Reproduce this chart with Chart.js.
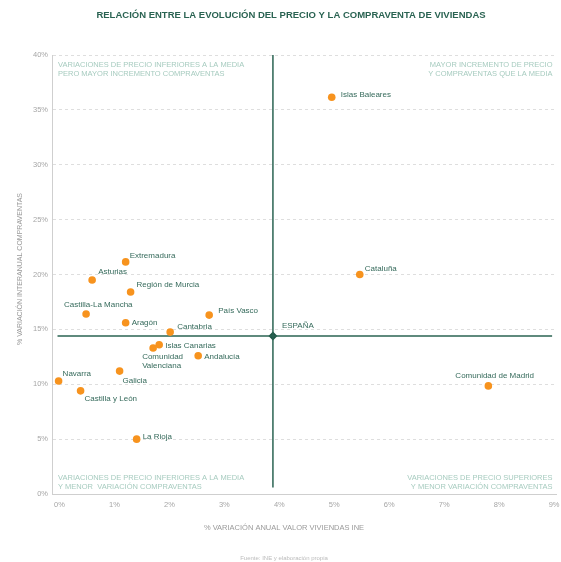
<!DOCTYPE html>
<html>
<head>
<meta charset="utf-8">
<script src="https://cdn.jsdelivr.net/npm/chart.js@4.4.1/dist/chart.umd.min.js"></script>
<style>
  html, body { margin: 0; padding: 0; background: #fff; }
  #wrap { width: 561px; height: 562px; }
</style>
</head>
<body>
<div id="wrap"><canvas id="chart"></canvas></div>
<script>
// datos
const regiones = ['Islas Baleares', 'Extremadura', 'Asturias', 'Región de Murcia', 'Castilla-La Mancha',
  'Aragón', 'País Vasco', 'Cantabria', 'Islas Canarias', ['Comunidad', 'Valenciana'], 'Andalucía',
  'Galicia', 'Navarra', 'Castilla y León', 'La Rioja', 'Cataluña', 'Comunidad de Madrid'];
const precio = [4.99, 1.24, 0.63, 1.33, 0.52, 1.24, 2.76, 2.05, 1.85, 1.74, 2.56, 1.13, 0.02, 0.42, 1.44, 5.50, 7.84];
const compraventas = [36.15, 21.15, 19.5, 18.4, 16.4, 15.6, 16.3, 14.75, 13.6, 13.3, 12.6, 11.2, 10.3, 9.4, 5.0, 20.0, 9.85];
const espanaPrecio = 3.92;
const espanaCompraventas = 14.4;
const xTicks = [0, 1, 2, 3, 4, 5, 6, 7, 8, 9];
const yTicks = [0, 5, 10, 15, 20, 25, 30, 35, 40];

// posicion de las etiquetas respecto al punto [dx, dy]
const labelOffsets = [[9, -2], [4, -6], [6, -8], [6, -7], [-22, -9], [6, 0], [9, -4], [7, -5], [6, 1],
  [-11, 9], [6, 1], [3, 10], [4, -7], [4, 8], [6, -2], [5, -6], [-33, -10]];

const GREEN = '#2a6352';
const LABEL = '#356a5b';
const QUAD = '#a6cbbf';
const FONT = '"Liberation Sans", Arial, sans-serif';

const textosPlugin = {
  id: 'textos',
  afterDatasetsDraw(chart) {
    const ctx = chart.ctx;
    const area = chart.chartArea;
    ctx.save();
    ctx.textBaseline = 'middle';

    // etiquetas de comunidades
    ctx.fillStyle = LABEL;
    ctx.font = '8px ' + FONT;
    ctx.textAlign = 'left';
    chart.getDatasetMeta(0).data.forEach((pt, i) => {
      const [dx, dy] = labelOffsets[i];
      const lines = [].concat(regiones[i]);
      lines.forEach((t, j) => ctx.fillText(t, pt.x + dx, pt.y + dy + j * 8.5));
    });
    const esp = chart.getDatasetMeta(3).data[0];
    ctx.fillText('ESPAÑA', esp.x + 9, esp.y - 10);

    // cuadrantes
    ctx.fillStyle = QUAD;
    ctx.font = '7.5px ' + FONT;
    const r = 552.5;
    ctx.fillText('VARIACIONES DE PRECIO INFERIORES A LA MEDIA', area.left + 6, area.top + 9.5);
    ctx.fillText('PERO MAYOR INCREMENTO COMPRAVENTAS', area.left + 6, area.top + 19);
    ctx.fillText('VARIACIONES DE PRECIO INFERIORES A LA MEDIA', area.left + 6, area.bottom - 16);
    ctx.fillText('Y MENOR  VARIACIÓN COMPRAVENTAS', area.left + 6, area.bottom - 7.5);
    ctx.textAlign = 'right';
    ctx.fillText('MAYOR INCREMENTO DE PRECIO', r, area.top + 9.5);
    ctx.fillText('Y COMPRAVENTAS QUE LA MEDIA', r, area.top + 19);
    ctx.fillText('VARIACIONES DE PRECIO SUPERIORES', r, area.bottom - 16);
    ctx.fillText('Y MENOR VARIACIÓN COMPRAVENTAS', r, area.bottom - 7.5);

    // titulo, ejes y fuente
    ctx.textAlign = 'center';
    ctx.fillStyle = GREEN;
    ctx.font = 'bold 9.5px ' + FONT;
    ctx.fillText('RELACIÓN ENTRE LA EVOLUCIÓN DEL PRECIO Y LA COMPRAVENTA DE VIVIENDAS', 291, 15);
    ctx.fillStyle = '#9a9a9a';
    ctx.font = '7.5px ' + FONT;
    ctx.fillText('% VARIACIÓN ANUAL VALOR VIVIENDAS INE', 284, 528);
    ctx.save();
    ctx.translate(20.5, 269);
    ctx.rotate(-Math.PI / 2);
    ctx.font = '7px ' + FONT;
    ctx.fillText('% VARIACIÓN INTERANUAL COMPRAVENTAS', 0, 0);
    ctx.restore();
    ctx.fillStyle = '#bbbbbb';
    ctx.font = '6px ' + FONT;
    ctx.fillText('Fuente: INE y elaboración propia', 284, 558);
    ctx.restore();
  }
};

new Chart(document.getElementById('chart'), {
  type: 'scatter',
  data: {
    datasets: [
      {
        data: precio.map((x, i) => ({ x, y: compraventas[i] })),
        backgroundColor: '#f7931e',
        borderWidth: 0,
        pointRadius: 3.8
      },
      {
        data: [{ x: 0, y: espanaCompraventas }, { x: 9, y: espanaCompraventas }],
        showLine: true, borderColor: GREEN, borderWidth: 1.5, pointRadius: 0
      },
      {
        data: [{ x: espanaPrecio, y: 0.6 }, { x: espanaPrecio, y: 40 }],
        showLine: true, borderColor: GREEN, borderWidth: 1.5, pointRadius: 0
      },
      {
        data: [{ x: espanaPrecio, y: espanaCompraventas }],
        pointStyle: 'rectRot', pointRadius: 4.5,
        backgroundColor: '#1e5645', borderWidth: 0
      }
    ]
  },
  options: {
    responsive: true,
    maintainAspectRatio: false,
    animation: false,
    layout: { padding: { top: 55, bottom: 47, left: 29, right: 4 } },
    plugins: {
      legend: { display: false },
      tooltip: { enabled: false }
    },
    scales: {
      x: {
        min: -0.1, max: 9.08,
        afterBuildTicks: s => { s.ticks = xTicks.map(v => ({ value: v })); },
        afterFit: s => { s.paddingRight = 0; s.paddingLeft = 0; },
        grid: { display: false, drawTicks: false },
        border: { display: true, color: '#cfcfcf', width: 1 },
        ticks: {
          padding: 6, color: '#a6a6a6', labelOffset: 2,
          font: { family: FONT, size: 7.5 },
          callback: v => v + '%'
        }
      },
      y: {
        min: 0, max: 40,
        afterBuildTicks: s => { s.ticks = yTicks.map(v => ({ value: v })); },
        grid: { color: '#dedede', drawTicks: false, lineWidth: 1 },
        border: { display: true, color: '#cfcfcf', width: 1, dash: [3, 3] },
        ticks: {
          padding: 4, color: '#a6a6a6',
          font: { family: FONT, size: 7.5 },
          callback: v => v + '%'
        }
      }
    }
  },
  plugins: [textosPlugin]
});
</script>
</body>
</html>
